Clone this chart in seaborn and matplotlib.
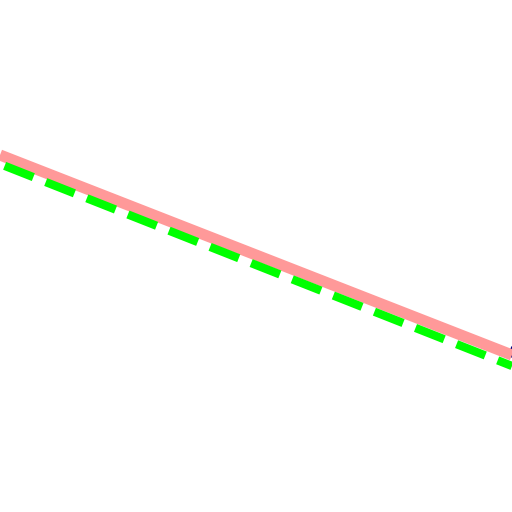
import matplotlib
matplotlib.use("Agg")
import matplotlib.pyplot as plt
import seaborn as sns
import pandas as pd

sns.set_style("white")

x_vals = [0, 512]
pink_y = [155, 355]
green_y = [164, 366]
marker_x = [519]
marker_y = [352]

fig = plt.figure(figsize=(5.12, 5.12), dpi=100)
ax = fig.add_axes([0, 0, 1, 1])

sns.lineplot(x=x_vals, y=pink_y, ax=ax, color="#ff9999", linewidth=8.0, solid_capstyle="butt")
sns.lineplot(x=x_vals, y=green_y, ax=ax, color="#00ff00", linewidth=6.0,
             linestyle=(4.7, (3.7, 1.6)))
sns.scatterplot(x=marker_x, y=marker_y, ax=ax, color="#000080", s=180, edgecolor="none")

ax.set_xlim(0, 512)
ax.set_ylim(512, 0)
ax.axis("off")
fig.savefig("out.png", dpi=100)
